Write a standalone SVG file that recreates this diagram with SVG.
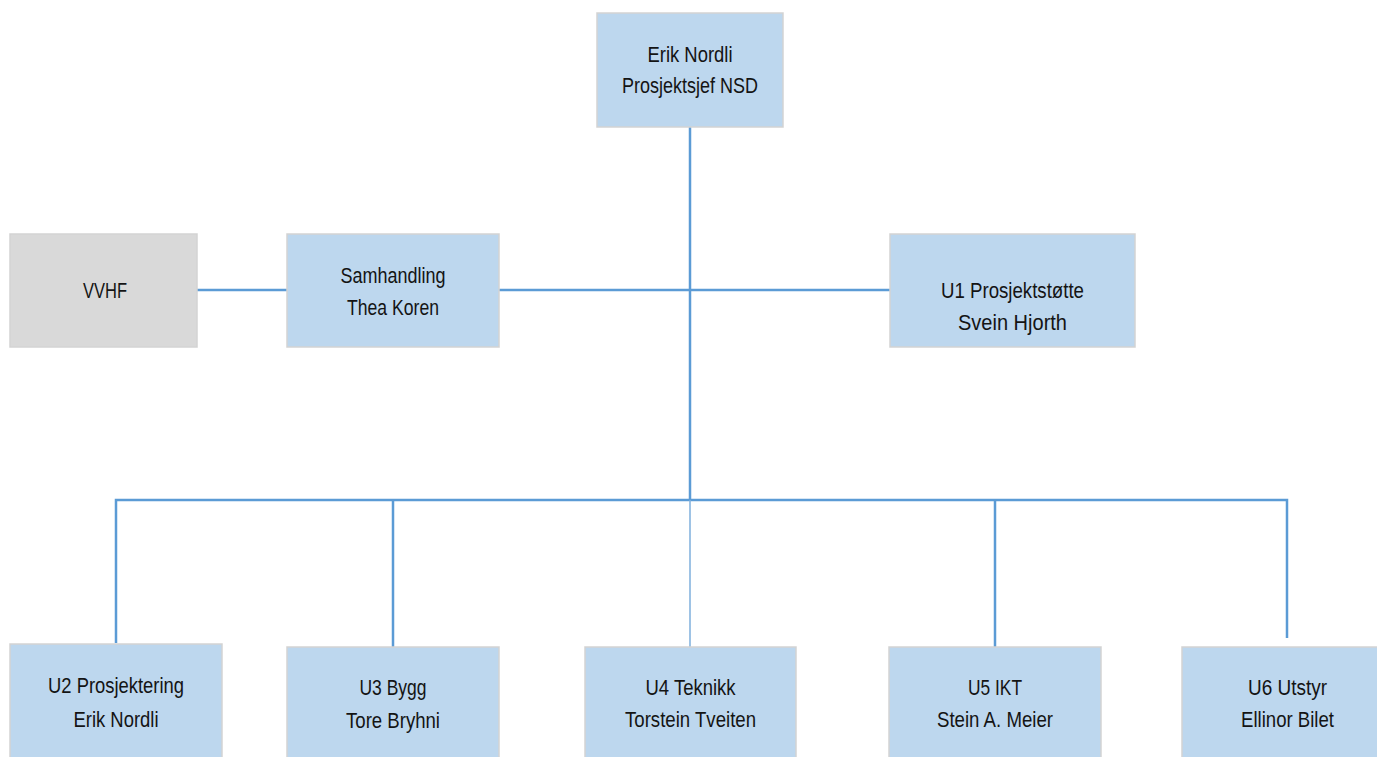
<svg xmlns="http://www.w3.org/2000/svg" width="1377" height="757" viewBox="0 0 1377 757">
<style>
.box{fill:#BDD7EE;stroke:#D3D3D3;stroke-width:1.5}
.grey{fill:#D9D9D9;stroke:#D3D3D3;stroke-width:1.5}
.t{font-family:"Liberation Sans",Arial,sans-serif;font-size:22.5px;fill:#141414;text-anchor:middle}
.c{stroke:#5B9BD5;stroke-width:2.5;fill:none}
.thin{stroke:#7EAFDD;stroke-width:1.5;fill:none}
</style>
<rect width="1377" height="757" fill="#FFFFFF"/>
<g id="connectors">
<line class="c" x1="690" y1="127" x2="690" y2="500"/>
<line class="c" x1="197" y1="290" x2="287" y2="290"/>
<line class="c" x1="499" y1="290" x2="890" y2="290"/>
<polyline class="c" points="116,643 116,500 1287,500 1287,638"/>
<line class="c" x1="393" y1="500" x2="393" y2="647"/>
<line class="thin" x1="690" y1="500" x2="690" y2="647"/>
<line class="c" x1="995" y1="500" x2="995" y2="647"/>
</g>
<g id="n-top">
<rect class="box" x="597" y="13" width="186" height="114"/>
<text class="t" x="690" y="62" textLength="85" lengthAdjust="spacingAndGlyphs">Erik Nordli</text>
<text class="t" x="690" y="93" textLength="136" lengthAdjust="spacingAndGlyphs">Prosjektsjef NSD</text>
</g>
<g id="n-vvhf">
<rect class="grey" x="10" y="234" width="187" height="113"/>
<text class="t" x="105" y="298" textLength="44" lengthAdjust="spacingAndGlyphs">VVHF</text>
</g>
<g id="n-samhandling">
<rect class="box" x="287" y="234" width="212" height="113"/>
<text class="t" x="393" y="283" textLength="105" lengthAdjust="spacingAndGlyphs">Samhandling</text>
<text class="t" x="393" y="315" textLength="92" lengthAdjust="spacingAndGlyphs">Thea Koren</text>
</g>
<g id="n-u1">
<rect class="box" x="890" y="234" width="245" height="113"/>
<text class="t" x="1012.5" y="298" textLength="143" lengthAdjust="spacingAndGlyphs">U1 Prosjektstøtte</text>
<text class="t" x="1012.5" y="330" textLength="109" lengthAdjust="spacingAndGlyphs">Svein Hjorth</text>
</g>
<g id="n-u2">
<rect class="box" x="10" y="644" width="212" height="120"/>
<text class="t" x="116" y="693" textLength="136" lengthAdjust="spacingAndGlyphs">U2 Prosjektering</text>
<text class="t" x="116" y="727" textLength="85" lengthAdjust="spacingAndGlyphs">Erik Nordli</text>
</g>
<g id="n-u3">
<rect class="box" x="287" y="647" width="212" height="120"/>
<text class="t" x="393" y="695" textLength="67" lengthAdjust="spacingAndGlyphs">U3 Bygg</text>
<text class="t" x="393" y="728" textLength="94" lengthAdjust="spacingAndGlyphs">Tore Bryhni</text>
</g>
<g id="n-u4">
<rect class="box" x="585" y="647" width="211" height="120"/>
<text class="t" x="690.5" y="695" textLength="90" lengthAdjust="spacingAndGlyphs">U4 Teknikk</text>
<text class="t" x="690.5" y="727" textLength="131" lengthAdjust="spacingAndGlyphs">Torstein Tveiten</text>
</g>
<g id="n-u5">
<rect class="box" x="889" y="647" width="212" height="120"/>
<text class="t" x="995" y="695" textLength="54" lengthAdjust="spacingAndGlyphs">U5 IKT</text>
<text class="t" x="995" y="727" textLength="116" lengthAdjust="spacingAndGlyphs">Stein A. Meier</text>
</g>
<g id="n-u6">
<rect class="box" x="1182" y="647" width="212" height="120"/>
<text class="t" x="1287.5" y="695" textLength="79" lengthAdjust="spacingAndGlyphs">U6 Utstyr</text>
<text class="t" x="1287.5" y="727" textLength="93" lengthAdjust="spacingAndGlyphs">Ellinor Bilet</text>
</g>
</svg>
